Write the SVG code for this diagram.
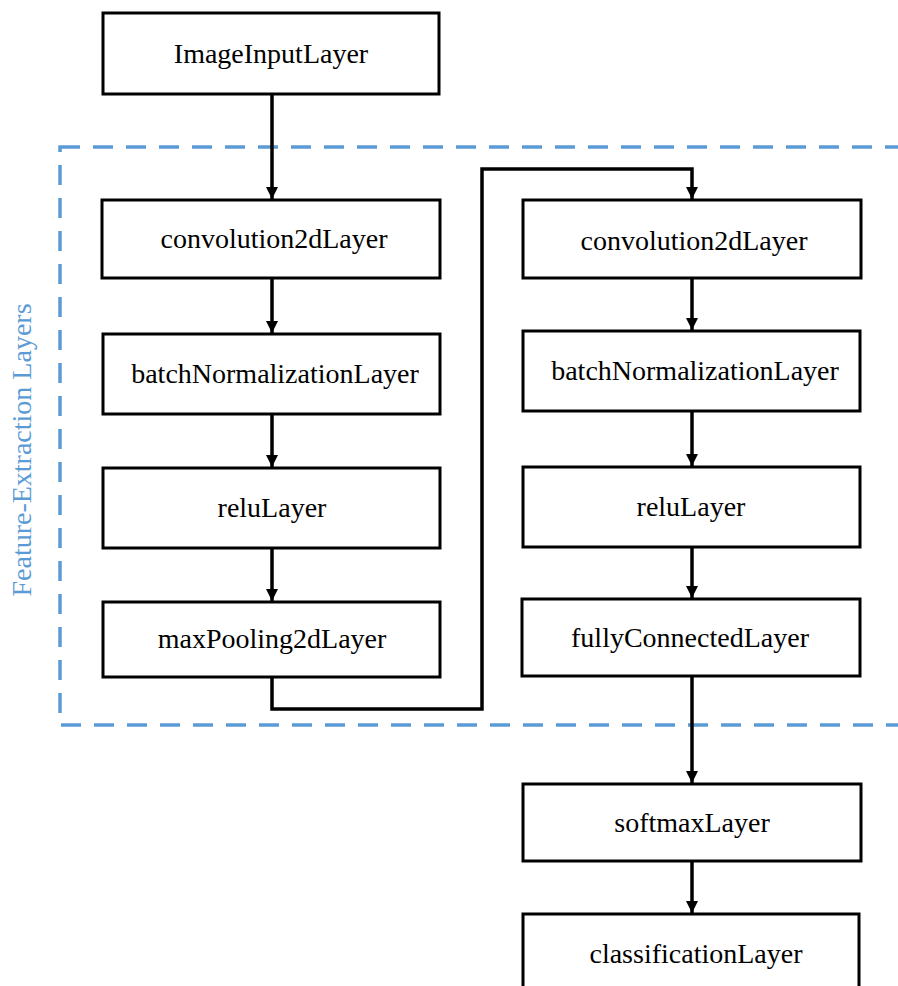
<svg xmlns="http://www.w3.org/2000/svg" width="898" height="986" viewBox="0 0 898 986">
<style>
.box{fill:#fff;stroke:#000;stroke-width:3}
.lbl{font-family:"Liberation Serif","Times New Roman",serif;font-size:28px;fill:#000;text-anchor:middle}
.conn{fill:none;stroke:#000;stroke-width:3.5}
.group{fill:none;stroke:#5b9bd5;stroke-width:3.5;stroke-dasharray:20 13}
.glbl{font-family:"Liberation Serif","Times New Roman",serif;font-size:28px;fill:#5b9bd5;text-anchor:middle}
</style>
<defs>
<marker id="arr" viewBox="0 0 12 12" refX="12" refY="6" markerWidth="12" markerHeight="12" markerUnits="userSpaceOnUse" orient="auto">
<path d="M0,0 L12,6 L0,12 z" fill="#000"/>
</marker>
</defs>
<g id="feature-extraction-group">
<rect class="group" x="60" y="147" width="860" height="578"/>
<text class="glbl" transform="translate(31,450) rotate(-90)">Feature-Extraction Layers</text>
</g>
<g id="connectors">
<line class="conn" x1="272" y1="94" x2="272" y2="199" marker-end="url(#arr)"/>
<line class="conn" x1="272" y1="278" x2="272" y2="333" marker-end="url(#arr)"/>
<line class="conn" x1="272" y1="414" x2="272" y2="467" marker-end="url(#arr)"/>
<line class="conn" x1="272" y1="548" x2="272" y2="601" marker-end="url(#arr)"/>
<path class="conn" d="M272,677 V709 H482 V169 H692 V199" marker-end="url(#arr)"/>
<line class="conn" x1="692" y1="278" x2="692" y2="330" marker-end="url(#arr)"/>
<line class="conn" x1="692" y1="411" x2="692" y2="466" marker-end="url(#arr)"/>
<line class="conn" x1="692" y1="547" x2="692" y2="598" marker-end="url(#arr)"/>
<line class="conn" x1="692" y1="676" x2="692" y2="783" marker-end="url(#arr)"/>
<line class="conn" x1="692" y1="861" x2="692" y2="913" marker-end="url(#arr)"/>
</g>
<g id="imageInputLayer"><rect class="box" x="103" y="13" width="336" height="81"/><text class="lbl" x="271" y="63">ImageInputLayer</text></g>
<g id="conv1"><rect class="box" x="102" y="200" width="338" height="78"/><text class="lbl" x="274" y="248">convolution2dLayer</text></g>
<g id="bn1"><rect class="box" x="103" y="334" width="337" height="80"/><text class="lbl" x="275" y="383">batchNormalizationLayer</text></g>
<g id="relu1"><rect class="box" x="103" y="468" width="337" height="80"/><text class="lbl" x="272" y="517">reluLayer</text></g>
<g id="maxpool"><rect class="box" x="103" y="602" width="337" height="75"/><text class="lbl" x="272" y="648">maxPooling2dLayer</text></g>
<g id="conv2"><rect class="box" x="523" y="200" width="338" height="78"/><text class="lbl" x="694" y="250">convolution2dLayer</text></g>
<g id="bn2"><rect class="box" x="523" y="331" width="337" height="80"/><text class="lbl" x="695" y="380">batchNormalizationLayer</text></g>
<g id="relu2"><rect class="box" x="523" y="467" width="337" height="80"/><text class="lbl" x="691" y="516">reluLayer</text></g>
<g id="fc"><rect class="box" x="522" y="599" width="338" height="77"/><text class="lbl" x="690" y="647">fullyConnectedLayer</text></g>
<g id="softmax"><rect class="box" x="523" y="784" width="338" height="77"/><text class="lbl" x="692" y="832">softmaxLayer</text></g>
<g id="classification"><rect class="box" x="523" y="914" width="336" height="90"/><text class="lbl" x="696" y="963">classificationLayer</text></g>
</svg>
